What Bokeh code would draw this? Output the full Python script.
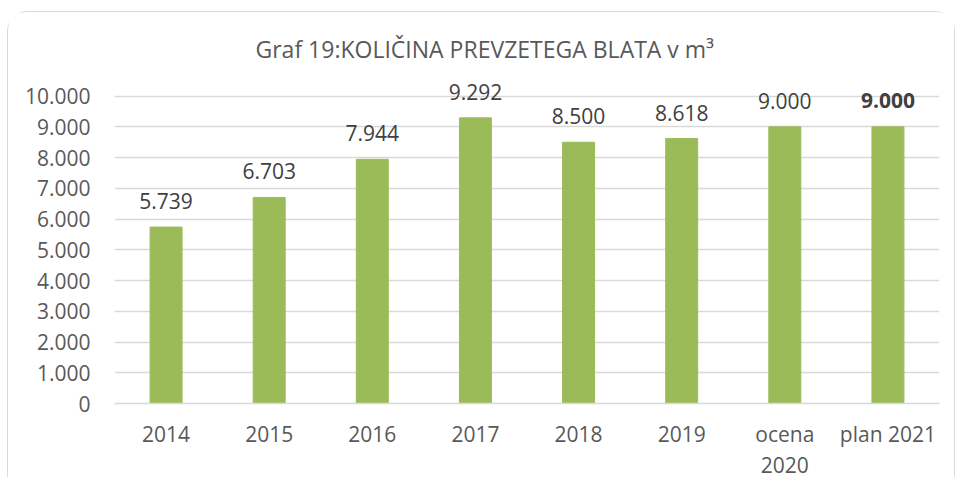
from bokeh.plotting import figure
from bokeh.models import ColumnDataSource, FixedTicker, Range1d, CategoricalAxis, CustomJSTickFormatter
from bokeh.core.properties import value
from bokeh.embed import file_html
from bokeh.resources import INLINE

categories = ["2014", "2015", "2016", "2017", "2018", "2019", "ocena 2020", "plan 2021"]
category_line1 = ["2014", "2015", "2016", "2017", "2018", "2019", "ocena", "plan 2021"]
category_line2 = ["", "", "", "", "", "", "2020", ""]
values = [5739, 6703, 7944, 9292, 8500, 8618, 9000, 9000]
label_styles = ["normal", "normal", "normal", "normal", "normal", "normal", "normal", "bold"]
y_ticks = [0, 1000, 2000, 3000, 4000, 5000, 6000, 7000, 8000, 9000, 10000]
y_tick_labels = ["0", "1.000", "2.000", "3.000", "4.000", "5.000", "6.000", "7.000", "8.000", "9.000", "10.000"]
title_text = "Graf 19:KOLIČINA PREVZETEGA BLATA v m³"

FONT = "Open Sans"
TXT = "#595959"

labels = [f"{v:,}".replace(",", ".") for v in values]
src = ColumnDataSource(dict(cat=categories, val=values, lab=labels, sty=label_styles))

p = figure(x_range=categories, y_range=Range1d(0, 10800),
           width=948, height=466, output_backend="svg", toolbar_location=None,
           min_border_left=106, min_border_right=17, min_border_top=59, min_border_bottom=75)
p.styles = {"border": "1.5px solid #d9d9d9", "border-bottom": "none",
            "border-top-left-radius": "20px", "border-top-right-radius": "20px",
            "margin-top": "10.5px", "margin-left": "6.5px"}

p.title.text = title_text
p.title.align = "left"
p.title.offset = 141
p.title.text_font = FONT
p.title.text_font_size = "23px"
p.title.text_font_style = "normal"
p.title.text_color = TXT
p.title.standoff = 14

p.vbar(x="cat", top="val", width=0.31, source=src, color="#9BBB59")
p.text(x="cat", y="val", text="lab", source=src, text_align="center", text_baseline="middle",
       y_offset=-26, text_font=value(FONT), text_font_size="21px", text_color="#404040",
       text_font_style="sty")

p.outline_line_color = None
p.xgrid.grid_line_color = None
p.ygrid.grid_line_color = "#d9d9d9"
p.ygrid.grid_line_width = 1.5
p.yaxis.ticker = FixedTicker(ticks=y_ticks)
p.yaxis.major_label_overrides = {t: l for t, l in zip(y_ticks, y_tick_labels)}
p.xaxis.formatter = CustomJSTickFormatter(args=dict(f=categories, l=category_line1),
                                          code="const i = f.indexOf(tick); return i >= 0 ? l[i] : tick;")

x2 = CategoricalAxis(formatter=CustomJSTickFormatter(args=dict(f=categories, l=category_line2),
                                                     code="const i = f.indexOf(tick); return i >= 0 ? l[i] : '';"))
p.add_layout(x2, "below")

for ax in (p.xaxis, p.yaxis):
    ax.major_tick_line_color = None
    ax.minor_tick_line_color = None
    ax.major_label_text_font = FONT
    ax.major_label_text_font_size = "21px"
    ax.major_label_text_color = TXT
p.yaxis.axis_line_color = None
p.yaxis.major_label_standoff = 18
p.xaxis[0].axis_line_color = "#d9d9d9"
p.xaxis[0].axis_line_width = 1.5
p.xaxis[0].major_label_standoff = 10
x2.axis_line_color = None
x2.major_label_standoff = 0
p.x_range.range_padding = 0

open("out.html", "w").write(file_html(p, INLINE))
